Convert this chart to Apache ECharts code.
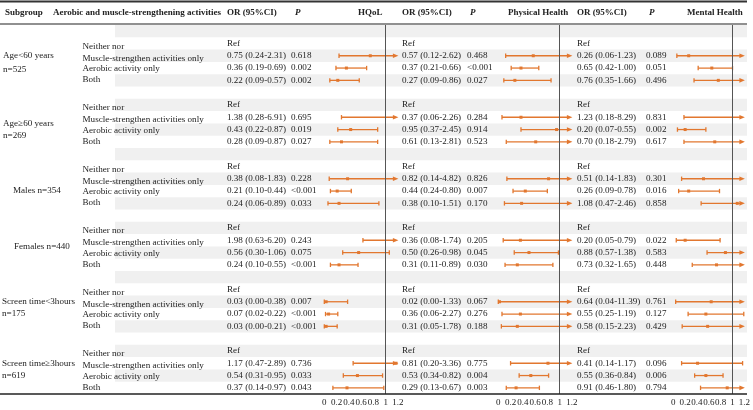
<!DOCTYPE html>
<html><head><meta charset="utf-8">
<script src="https://cdn.jsdelivr.net/npm/echarts@6/dist/echarts.min.js"></script>
<style>html,body{margin:0;padding:0;background:#fff}#c{width:753px;height:410px}</style>
</head><body><div id="c"></div>
<script>
// ---------- data ----------
const subgroupNames = ['Age<60 years', 'Age≥60 years', 'Males n=354', 'Females n=440', 'Screen time<3hours', 'Screen time≥3hours'];
const subgroupN = ['n=525', 'n=269', '', '', 'n=175', 'n=619'];
const activities = ['Neither nor', 'Muscle-strengthen activities only', 'Aerobic activity only', 'Both'];
const refLabel = 'Ref';
const headers = ['Subgroup', 'Aerobic and muscle-strengthening activities', 'OR (95%CI)', 'P', 'HQoL', 'OR (95%CI)', 'P', 'Physical Health', 'OR (95%CI)', 'P', 'Mental Health'];

// per subgroup: Muscle-only, Aerobic-only, Both
const hqolOR = [0.75, 0.36, 0.22, 1.38, 0.43, 0.28, 0.38, 0.21, 0.24, 1.98, 0.56, 0.24, 0.03, 0.07, 0.03, 1.17, 0.54, 0.37];
const hqolLo = [0.24, 0.19, 0.09, 0.28, 0.22, 0.09, 0.08, 0.10, 0.06, 0.63, 0.30, 0.10, 0.00, 0.02, 0.00, 0.47, 0.31, 0.14];
const hqolHi = [2.31, 0.69, 0.57, 6.91, 0.87, 0.87, 1.83, 0.44, 0.89, 6.20, 1.06, 0.55, 0.38, 0.22, 0.21, 2.89, 0.95, 0.97];
const hqolP  = ['0.618', '0.002', '0.002', '0.695', '0.019', '0.027', '0.228', '<0.001', '0.033', '0.243', '0.075', '<0.001', '0.007', '<0.001', '<0.001', '0.736', '0.033', '0.043'];

const physOR = [0.57, 0.37, 0.27, 0.37, 0.95, 0.61, 0.82, 0.44, 0.38, 0.36, 0.50, 0.31, 0.02, 0.36, 0.31, 0.81, 0.53, 0.29];
const physLo = [0.12, 0.21, 0.09, 0.06, 0.37, 0.13, 0.14, 0.24, 0.10, 0.08, 0.26, 0.11, 0.00, 0.06, 0.05, 0.20, 0.34, 0.13];
const physHi = [2.62, 0.66, 0.86, 2.26, 2.45, 2.81, 4.82, 0.80, 1.51, 1.74, 0.98, 0.89, 1.33, 2.27, 1.78, 3.36, 0.82, 0.67];
const physP  = ['0.468', '<0.001', '0.027', '0.284', '0.914', '0.523', '0.826', '0.007', '0.170', '0.205', '0.045', '0.030', '0.067', '0.276', '0.188', '0.775', '0.004', '0.003'];

const mentOR = [0.26, 0.65, 0.76, 1.23, 0.20, 0.70, 0.51, 0.26, 1.08, 0.20, 0.88, 0.73, 0.64, 0.55, 0.58, 0.41, 0.55, 0.91];
const mentLo = [0.06, 0.42, 0.35, 0.18, 0.07, 0.18, 0.14, 0.09, 0.47, 0.05, 0.57, 0.32, 0.04, 0.25, 0.15, 0.14, 0.36, 0.46];
const mentHi = [1.23, 1.00, 1.66, 8.29, 0.55, 2.79, 1.83, 0.78, 2.46, 0.79, 1.38, 1.65, 11.39, 1.19, 2.23, 1.17, 0.84, 1.80];
const mentP  = ['0.089', '0.051', '0.496', '0.831', '0.002', '0.617', '0.301', '0.016', '0.858', '0.022', '0.583', '0.448', '0.761', '0.127', '0.429', '0.096', '0.006', '0.794'];

const axisTicks = [0, 0.2, 0.4, 0.6, 0.8, 1, 1.2];

// ---------- layout ----------
const FONT = "'Liberation Serif', 'Times New Roman', serif";
const FS = 9.1;
const FSH = 9.0;
const ORANGE = '#E2772F';
const TEXT = '#222';
const TOP = 25, H = 369, NROWS = 30;
const AXMAX = 1.2;
const plotLefts = [324.3, 498.3, 673.3];
const plotW = 73.6;
const colOR = [227, 402, 577];
const colP = [291, 467, 646];
const activityX = 82.5;
const actOffset = [0.25, 0.2, 0.05, -0.05];
const subRows = [[1.95, 3.1], [7.55, 8.5], [12.95], [17.5], [22.0, 22.95], [27.0, 28.0]];
const subX = [[3, 3], [3, 3], [13], [14], [2, 2], [2, 2]];

function fmt(v) { return v.toFixed(2); }

// ---------- table text items ----------
const textItems = [];
const outcomes = [
  {or: hqolOR, lo: hqolLo, hi: hqolHi, p: hqolP},
  {or: physOR, lo: physLo, hi: physHi, p: physP},
  {or: mentOR, lo: mentLo, hi: mentHi, p: mentP}
];
for (let g = 0; g < subgroupNames.length; g++) {
  const base = g * 5;
  textItems.push({x: subX[g][0], row: subRows[g][0], t: subgroupNames[g]});
  if (subgroupN[g]) textItems.push({x: subX[g][1], row: subRows[g][1], t: subgroupN[g]});
  for (let a = 0; a < 4; a++) {
    textItems.push({x: activityX, row: base + 1 + a + actOffset[a], t: activities[a]});
  }
  outcomes.forEach((o, k) => {
    textItems.push({x: colOR[k], row: base + 1, t: refLabel});
    for (let i = 0; i < 3; i++) {
      const idx = g * 3 + i;
      textItems.push({x: colOR[k], row: base + 2 + i, t: fmt(o.or[idx]) + ' (' + fmt(o.lo[idx]) + '-' + fmt(o.hi[idx]) + ')'});
      textItems.push({x: colP[k], row: base + 2 + i, t: o.p[idx]});
    }
  });
}

const stripeRows = [];
for (let r = 0; r < NROWS; r += 2) stripeRows.push([115, r]);

function forestData(o) {
  const d = [];
  for (let g = 0; g < 6; g++) for (let i = 0; i < 3; i++) {
    const idx = g * 3 + i;
    d.push([g * 5 + 2 + i, o.or[idx], o.lo[idx], o.hi[idx]]);
  }
  return d;
}

function renderForest(params, api) {
  const row = api.value(0), or = api.value(1), lo = api.value(2), hi = api.value(3);
  const y = api.coord([0, row])[1];
  const xLo = api.coord([Math.max(lo, 0), row])[0];
  const over = hi > AXMAX;
  const xHi = api.coord([Math.min(hi, AXMAX), row])[0];
  const st = {stroke: ORANGE, lineWidth: 1.3};
  const ch = [];
  ch.push({type: 'line', shape: {x1: xLo, y1: y, x2: over ? xHi - 3 : xHi, y2: y}, style: st});
  ch.push({type: 'line', shape: {x1: xLo, y1: y - 2.2, x2: xLo, y2: y + 2.2}, style: st});
  if (over) {
    ch.push({type: 'polygon', shape: {points: [[xHi - 5, y - 2.3], [xHi + 0.5, y], [xHi - 5, y + 2.3]]}, style: {fill: ORANGE}});
  } else {
    ch.push({type: 'line', shape: {x1: xHi, y1: y - 2.2, x2: xHi, y2: y + 2.2}, style: st});
  }
  if (or <= AXMAX) {
    const xo = api.coord([or, row])[0];
    ch.push({type: 'rect', shape: {x: xo - 1.5, y: y - 1.5, width: 3, height: 3}, style: {fill: ORANGE}});
  }
  return {type: 'group', children: ch};
}

const grids = [{left: 0, width: 753, top: TOP, height: H}];
const xAxes = [{gridIndex: 0, type: 'value', min: 0, max: 753, show: false}];
const yAxes = [{gridIndex: 0, type: 'value', min: -0.5, max: NROWS - 0.5, inverse: true, show: false}];
plotLefts.forEach((l, k) => {
  grids.push({left: l, width: plotW, top: TOP, height: H});
  xAxes.push({
    gridIndex: k + 1, type: 'value', min: axisTicks[0], max: axisTicks[axisTicks.length - 1], interval: 0.2,
    splitLine: {show: false},
    axisLine: {show: true, lineStyle: {color: '#222', width: 1}},
    axisTick: {show: true, length: 4, lineStyle: {color: '#222'}},
    axisLabel: {show: true, margin: 4, fontSize: 9, fontFamily: FONT, color: TEXT, hideOverlap: false}
  });
  yAxes.push({gridIndex: k + 1, type: 'value', min: -0.5, max: NROWS - 0.5, inverse: true, show: false});
});

const series = [
  {
    type: 'custom', xAxisIndex: 0, yAxisIndex: 0, z: 1, silent: true,
    data: stripeRows,
    renderItem: (params, api) => {
      const r = api.value(1);
      const p1 = api.coord([api.value(0), r - 0.5]);
      const p2 = api.coord([747, r + 0.5]);
      return {type: 'rect', shape: {x: p1[0], y: p1[1], width: p2[0] - p1[0], height: p2[1] - p1[1]}, style: {fill: '#F0F0F0'}};
    }
  },
  {
    type: 'custom', xAxisIndex: 0, yAxisIndex: 0, z: 3, silent: true,
    data: textItems.map(d => [d.x, d.row]),
    renderItem: (params, api) => {
      const d = textItems[params.dataIndex];
      const p = api.coord([api.value(0), api.value(1)]);
      return {type: 'text', x: p[0], y: p[1], style: {text: d.t, fontFamily: FONT, fontSize: FS, fill: TEXT, align: 'left', verticalAlign: 'middle'}};
    }
  }
];
outcomes.forEach((o, k) => {
  series.push({
    type: 'custom', xAxisIndex: k + 1, yAxisIndex: k + 1, z: 4, silent: true, clip: false,
    data: forestData(o),
    encode: {x: [1, 2, 3], y: 0},
    renderItem: renderForest,
    markLine: {
      silent: true, symbol: 'none', label: {show: false}, animation: false,
      lineStyle: {color: '#555', width: 1, type: 'solid'},
      data: [{xAxis: 1}]
    }
  });
});

// header texts
const headerX = [5, 53, 227, 295, 358, 402, 470, 508, 577, 649, 687];
const graphic = [
  {type: 'line', shape: {x1: 0, y1: 1.5, x2: 747, y2: 1.5}, style: {stroke: '#333', lineWidth: 2}, z: 10},
  {type: 'line', shape: {x1: 0, y1: 24, x2: 747, y2: 24}, style: {stroke: '#222', lineWidth: 1.2}, z: 10},
  {type: 'line', shape: {x1: 0, y1: 394, x2: 747, y2: 394}, style: {stroke: '#222', lineWidth: 1.4}, z: 10}
];
headers.forEach((h, i) => {
  graphic.push({type: 'text', x: headerX[i], y: 13, z: 10, style: {text: h, fontFamily: FONT, fontSize: FSH, fontWeight: 'bold', fontStyle: h === 'P' ? 'italic' : 'normal', fill: TEXT, align: 'left', verticalAlign: 'middle'}});
});

const chart = echarts.init(document.getElementById('c'));
chart.setOption({animation: false, grid: grids, xAxis: xAxes, yAxis: yAxes, series: series, graphic: graphic});
</script>
</body></html>
